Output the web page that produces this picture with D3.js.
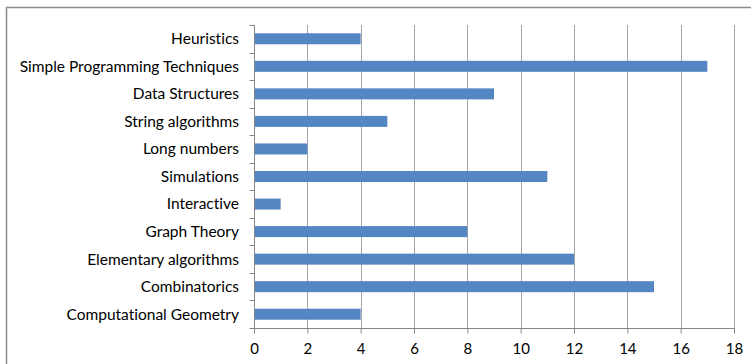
<!DOCTYPE html>
<html>
<head>
<meta charset="utf-8">
<script src="https://cdn.jsdelivr.net/npm/d3@7"></script>
<style>
  html, body { margin: 0; padding: 0; background: #fff; }
  svg { display: block; }
  text { font-family: Lato, "Open Sans", sans-serif; fill: #000; font-variant-ligatures: none; }
</style>
</head>
<body>
<svg id="chart" width="751" height="364"></svg>
<script>
// Problem counts per topic, listed top to bottom
const categories = [
  "Heuristics",
  "Simple Programming Techniques",
  "Data Structures",
  "String algorithms",
  "Long numbers",
  "Simulations",
  "Interactive",
  "Graph Theory",
  "Elementary algorithms",
  "Combinatorics",
  "Computational Geometry"
];
const counts = [4, 17, 9, 5, 2, 11, 1, 8, 12, 15, 4];
const xTicks = [0, 2, 4, 6, 8, 10, 12, 14, 16, 18];

const svg = d3.select("#chart");
const W = 751, H = 364;
const plot = { left: 254, right: 734, top: 25, bottom: 328 };
const barH = 11;

// Outer chart frame
svg.append("rect")
  .attr("x", 6.5).attr("y", 7.5)
  .attr("width", W + 10).attr("height", H + 10)
  .attr("fill", "none").attr("stroke", "#8c8c8c").attr("stroke-width", 1.5);

const x = d3.scaleLinear().domain([0, 18]).range([plot.left, plot.right]);
const y = d3.scaleBand().domain(categories).range([plot.top, plot.bottom]);

// Vertical gridlines
svg.append("g")
  .selectAll("line")
  .data(xTicks.filter(t => t > 0))
  .join("line")
  .attr("x1", d => Math.round(x(d)) + 0.5).attr("x2", d => Math.round(x(d)) + 0.5)
  .attr("y1", plot.top).attr("y2", plot.bottom)
  .attr("stroke", "#a6a6a6").attr("stroke-width", 1);

// Bars
svg.append("g")
  .selectAll("rect")
  .data(categories.map((c, i) => ({ c, v: counts[i] })))
  .join("rect")
  .attr("x", x(0))
  .attr("y", d => y(d.c) + (y.bandwidth() - barH) / 2)
  .attr("width", d => x(d.v) - x(0))
  .attr("height", barH)
  .attr("fill", "#5586c4");

// X axis
const xAxis = svg.append("g")
  .attr("transform", `translate(0,${plot.bottom + 0.5})`)
  .call(d3.axisBottom(x).tickValues(xTicks).tickSize(5).tickPadding(10).tickFormat(d3.format("d")));
xAxis.select(".domain").attr("stroke", "#868686").attr("d", `M${plot.left},0H${plot.right + 1}`);
xAxis.selectAll(".tick line").attr("stroke", "#868686");
xAxis.selectAll(".tick text").style("font-size", "15px").style("font-family", "Lato, sans-serif");

// Y axis with ticks at band boundaries
const yAxis = svg.append("g")
  .attr("transform", `translate(${plot.left + 0.5},0)`);
yAxis.append("line")
  .attr("y1", plot.top).attr("y2", plot.bottom)
  .attr("stroke", "#868686");
yAxis.selectAll("line.tk")
  .data(d3.range(categories.length + 1))
  .join("line")
  .attr("class", "tk")
  .attr("x1", -5).attr("x2", 0)
  .attr("y1", i => Math.round(plot.top + i * y.step()) + 0.5)
  .attr("y2", i => Math.round(plot.top + i * y.step()) + 0.5)
  .attr("stroke", "#868686");

// Category labels
svg.append("g")
  .selectAll("text")
  .data(categories)
  .join("text")
  .attr("x", 239)
  .attr("y", d => y(d) + y.bandwidth() / 2)
  .attr("dy", "0.35em")
  .attr("text-anchor", "end")
  .style("font-size", "15.5px")
  .text(d => d);
</script>
</body>
</html>
